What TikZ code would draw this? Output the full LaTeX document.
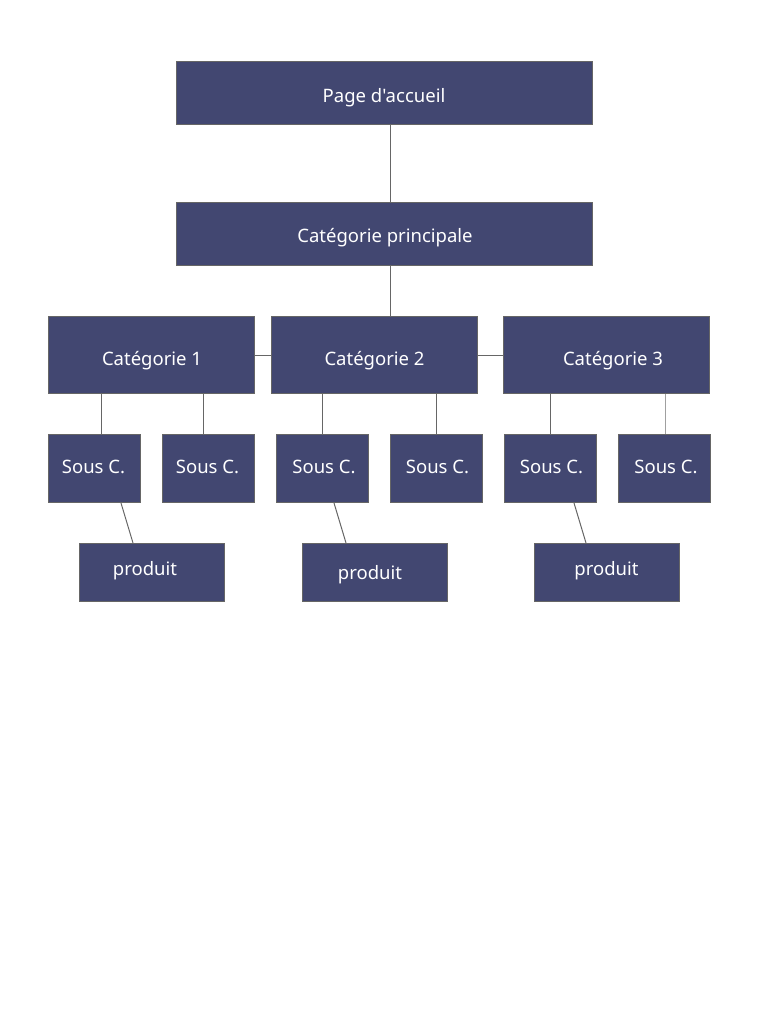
\documentclass[tikz,border=0pt]{standalone}
\usepackage{fontspec}
\setmainfont{Noto Sans}[Ligatures=TeXOff]
\usetikzlibrary{calc}
\definecolor{boxfill}{HTML}{424771}
\definecolor{edge}{HTML}{666666}
\definecolor{edgelight}{HTML}{A0A0A0}
\tikzset{
  box/.style={draw=edge, line width=1pt, fill=boxfill, inner sep=0pt, anchor=north west},
  lbl/.style={text=white, font=\fontsize{18.5}{22}\selectfont, anchor=base, inner sep=0pt},
  link/.style={draw=edge, line width=1pt},
  lightlink/.style={draw=edgelight, line width=1pt},
}
\begin{document}
\begin{tikzpicture}[x=1pt,y=-1pt]
\path[use as bounding box, fill=white] (0,0) rectangle (768,1024);
% boxes
\node[box, minimum width=416, minimum height=63] (pa) at (176,61) {};
\node[box, minimum width=416, minimum height=63] (cp) at (176,202) {};
\node[box, minimum width=206, minimum height=77] (c1) at (48,316) {};
\node[box, minimum width=206, minimum height=77] (c2) at (271,316) {};
\node[box, minimum width=206, minimum height=77] (c3) at (503,316) {};
\node[box, minimum width=92, minimum height=68] (s1) at (48,434) {};
\node[box, minimum width=92, minimum height=68] (s2) at (162,434) {};
\node[box, minimum width=92, minimum height=68] (s3) at (276,434) {};
\node[box, minimum width=92, minimum height=68] (s4) at (390,434) {};
\node[box, minimum width=92, minimum height=68] (s5) at (504,434) {};
\node[box, minimum width=92, minimum height=68] (s6) at (618,434) {};
\node[box, minimum width=145, minimum height=58] (p1) at (79,543) {};
\node[box, minimum width=145, minimum height=58] (p2) at (302,543) {};
\node[box, minimum width=145, minimum height=58] (p3) at (534,543) {};
% helper coordinates for connector x positions
\coordinate (vA) at (390,0);
\coordinate (vs1) at (101,0);
\coordinate (vs2) at (203,0);
\coordinate (vs3) at (322,0);
\coordinate (vs4) at (436,0);
\coordinate (vs5) at (550,0);
\coordinate (vs6) at (665,0);
\coordinate (d1a) at (121,0);
\coordinate (d1b) at (133,0);
\coordinate (d2a) at (334,0);
\coordinate (d2b) at (346,0);
\coordinate (d3a) at (574,0);
\coordinate (d3b) at (586,0);
% connectors
\draw[link] (pa.south -| vA) -- (cp.north -| vA);
\draw[link] (cp.south -| vA) -- (c2.north -| vA);
\draw[link] (c1.east) -- (c2.west);
\draw[link] (c2.east) -- (c3.west);
\draw[link] (c1.south -| vs1) -- (s1.north -| vs1);
\draw[link] (c1.south -| vs2) -- (s2.north -| vs2);
\draw[link] (c2.south -| vs3) -- (s3.north -| vs3);
\draw[link] (c2.south -| vs4) -- (s4.north -| vs4);
\draw[link] (c3.south -| vs5) -- (s5.north -| vs5);
\draw[lightlink] (c3.south -| vs6) -- (s6.north -| vs6);
\draw[link] (s1.south -| d1a) -- (p1.north -| d1b);
\draw[link] (s3.south -| d2a) -- (p2.north -| d2b);
\draw[link] (s5.south -| d3a) -- (p3.north -| d3b);
% labels
\node[lbl] (tpa) at (384,103) {Page d'accueil};
\node[lbl] (tcp) at (385,243) {Catégorie principale};
\node[lbl] (tc1) at (152,365) {Catégorie 1};
\node[lbl] (tc2) at (374.5,365) {Catégorie 2};
\node[lbl] (tc3) at (613,365) {Catégorie 3};
\node[lbl] (ts1) at (93.5,473) {Sous C.};
\node[lbl] (ts2) at (207.5,473) {Sous C.};
\node[lbl] (ts3) at (324,473) {Sous C.};
\node[lbl] (ts4) at (437.5,473) {Sous C.};
\node[lbl] (ts5) at (551.5,473) {Sous C.};
\node[lbl] (ts6) at (666,473) {Sous C.};
\node[lbl] (tp1) at (145,575) {produit};
\node[lbl] (tp2) at (370,579) {produit};
\node[lbl] (tp3) at (606.5,575) {produit};
\end{tikzpicture}
\end{document}
